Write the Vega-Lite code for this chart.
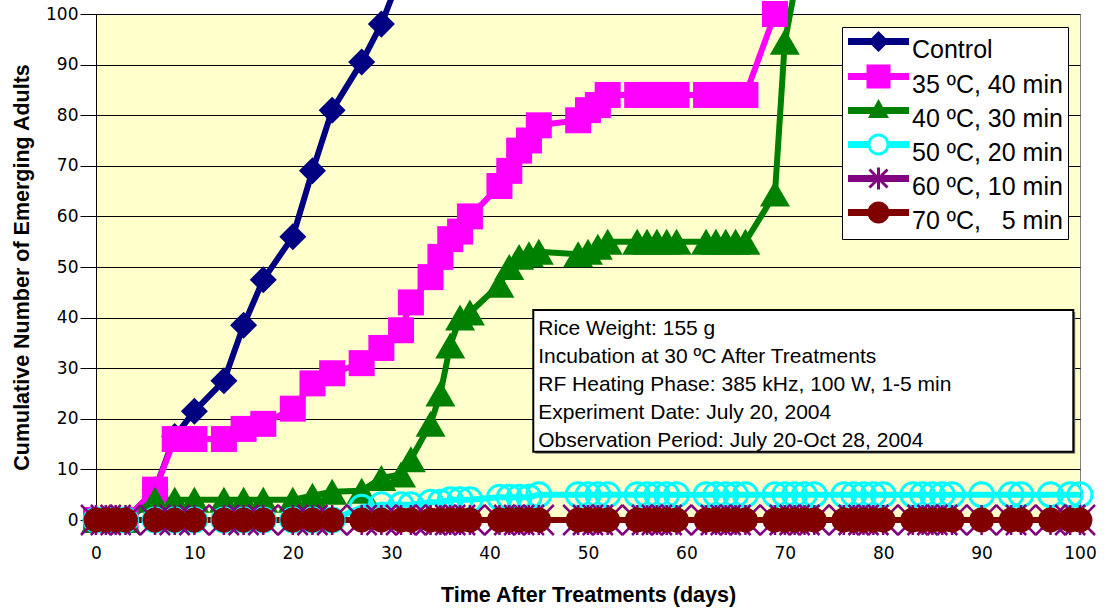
{
  "$schema": "https://vega.github.io/schema/vega-lite/v6.json",
  "autosize": "none",
  "width": 984,
  "height": 506,
  "padding": {"left": 96, "top": 14, "right": 24, "bottom": 89},
  "background": "white",
  "config": {
    "view": {"fill": "#FFFFCC", "stroke": "#808080", "strokeWidth": 1},
    "axis": {"labelColor": "#000000", "titleColor": "#000000", "domainColor": "#000000", "tickColor": "#000000", "labelFlush": false, "labelOverlap": false, "labelBound": false}
  },
  "datasets": {
    "emergence": [
    {"series":"Control","day":0,"n":0},{"series":"Control","day":1,"n":0},{"series":"Control","day":2,"n":0},{"series":"Control","day":3,"n":0},{"series":"Control","day":6,"n":6},{"series":"Control","day":8,"n":16.5},{"series":"Control","day":10,"n":21.5},{"series":"Control","day":13,"n":27.5},{"series":"Control","day":15,"n":38.5},{"series":"Control","day":17,"n":47.5},{"series":"Control","day":20,"n":56},{"series":"Control","day":22,"n":69},{"series":"Control","day":24,"n":81},{"series":"Control","day":27,"n":90.5},{"series":"Control","day":29,"n":98},{"series":"Control","day":31,"n":108},

    {"series":"35 ºC, 40 min","day":0,"n":0},{"series":"35 ºC, 40 min","day":1,"n":0},{"series":"35 ºC, 40 min","day":2,"n":0},{"series":"35 ºC, 40 min","day":3,"n":0},{"series":"35 ºC, 40 min","day":6,"n":6},{"series":"35 ºC, 40 min","day":8,"n":16},{"series":"35 ºC, 40 min","day":10,"n":16},{"series":"35 ºC, 40 min","day":13,"n":16},{"series":"35 ºC, 40 min","day":15,"n":18},{"series":"35 ºC, 40 min","day":17,"n":19},{"series":"35 ºC, 40 min","day":20,"n":22},{"series":"35 ºC, 40 min","day":22,"n":27},{"series":"35 ºC, 40 min","day":24,"n":29},{"series":"35 ºC, 40 min","day":27,"n":31},{"series":"35 ºC, 40 min","day":29,"n":34},{"series":"35 ºC, 40 min","day":31,"n":37.5},{"series":"35 ºC, 40 min","day":32,"n":43},{"series":"35 ºC, 40 min","day":34,"n":48},{"series":"35 ºC, 40 min","day":35,"n":52},{"series":"35 ºC, 40 min","day":36,"n":55.5},{"series":"35 ºC, 40 min","day":37,"n":57},{"series":"35 ºC, 40 min","day":38,"n":60},{"series":"35 ºC, 40 min","day":41,"n":66},{"series":"35 ºC, 40 min","day":42,"n":69},{"series":"35 ºC, 40 min","day":43,"n":73},{"series":"35 ºC, 40 min","day":44,"n":75},{"series":"35 ºC, 40 min","day":45,"n":78},{"series":"35 ºC, 40 min","day":49,"n":79},{"series":"35 ºC, 40 min","day":50,"n":81},{"series":"35 ºC, 40 min","day":51,"n":82},{"series":"35 ºC, 40 min","day":52,"n":84},{"series":"35 ºC, 40 min","day":55,"n":84},{"series":"35 ºC, 40 min","day":56,"n":84},{"series":"35 ºC, 40 min","day":57,"n":84},{"series":"35 ºC, 40 min","day":58,"n":84},{"series":"35 ºC, 40 min","day":59,"n":84},{"series":"35 ºC, 40 min","day":62,"n":84},{"series":"35 ºC, 40 min","day":63,"n":84},{"series":"35 ºC, 40 min","day":64,"n":84},{"series":"35 ºC, 40 min","day":65,"n":84},{"series":"35 ºC, 40 min","day":66,"n":84},{"series":"35 ºC, 40 min","day":69,"n":100},

    {"series":"40 ºC, 30 min","day":0,"n":0},{"series":"40 ºC, 30 min","day":1,"n":0},{"series":"40 ºC, 30 min","day":2,"n":0},{"series":"40 ºC, 30 min","day":3,"n":0},{"series":"40 ºC, 30 min","day":6,"n":4},{"series":"40 ºC, 30 min","day":8,"n":4},{"series":"40 ºC, 30 min","day":10,"n":4},{"series":"40 ºC, 30 min","day":13,"n":4},{"series":"40 ºC, 30 min","day":15,"n":4},{"series":"40 ºC, 30 min","day":17,"n":4},{"series":"40 ºC, 30 min","day":20,"n":4},{"series":"40 ºC, 30 min","day":22,"n":4.8},{"series":"40 ºC, 30 min","day":24,"n":5.6},{"series":"40 ºC, 30 min","day":27,"n":5.8},{"series":"40 ºC, 30 min","day":29,"n":8.3},{"series":"40 ºC, 30 min","day":31,"n":9},{"series":"40 ºC, 30 min","day":32,"n":12},{"series":"40 ºC, 30 min","day":34,"n":19},{"series":"40 ºC, 30 min","day":35,"n":25},{"series":"40 ºC, 30 min","day":36,"n":34.5},{"series":"40 ºC, 30 min","day":37,"n":40},{"series":"40 ºC, 30 min","day":38,"n":41},{"series":"40 ºC, 30 min","day":41,"n":46.5},{"series":"40 ºC, 30 min","day":42,"n":50},{"series":"40 ºC, 30 min","day":43,"n":52},{"series":"40 ºC, 30 min","day":44,"n":52.5},{"series":"40 ºC, 30 min","day":45,"n":53},{"series":"40 ºC, 30 min","day":49,"n":52.5},{"series":"40 ºC, 30 min","day":50,"n":53},{"series":"40 ºC, 30 min","day":51,"n":54},{"series":"40 ºC, 30 min","day":52,"n":55},{"series":"40 ºC, 30 min","day":55,"n":55},{"series":"40 ºC, 30 min","day":56,"n":55},{"series":"40 ºC, 30 min","day":57,"n":55},{"series":"40 ºC, 30 min","day":58,"n":55},{"series":"40 ºC, 30 min","day":59,"n":55},{"series":"40 ºC, 30 min","day":62,"n":55},{"series":"40 ºC, 30 min","day":63,"n":55},{"series":"40 ºC, 30 min","day":64,"n":55},{"series":"40 ºC, 30 min","day":65,"n":55},{"series":"40 ºC, 30 min","day":66,"n":55},{"series":"40 ºC, 30 min","day":69,"n":64.5},{"series":"40 ºC, 30 min","day":70,"n":94.5},{"series":"40 ºC, 30 min","day":72,"n":115},

    {"series":"50 ºC, 20 min","day":0,"n":0},{"series":"50 ºC, 20 min","day":1,"n":0},{"series":"50 ºC, 20 min","day":2,"n":0},{"series":"50 ºC, 20 min","day":3,"n":0},{"series":"50 ºC, 20 min","day":6,"n":0},{"series":"50 ºC, 20 min","day":8,"n":0},{"series":"50 ºC, 20 min","day":10,"n":0},{"series":"50 ºC, 20 min","day":13,"n":0},{"series":"50 ºC, 20 min","day":15,"n":0},{"series":"50 ºC, 20 min","day":17,"n":0},{"series":"50 ºC, 20 min","day":20,"n":0},{"series":"50 ºC, 20 min","day":22,"n":0},{"series":"50 ºC, 20 min","day":24,"n":0},{"series":"50 ºC, 20 min","day":27,"n":2.5},{"series":"50 ºC, 20 min","day":29,"n":3},{"series":"50 ºC, 20 min","day":31,"n":3},{"series":"50 ºC, 20 min","day":32,"n":3},{"series":"50 ºC, 20 min","day":34,"n":3.5},{"series":"50 ºC, 20 min","day":35,"n":3.5},{"series":"50 ºC, 20 min","day":36,"n":4},{"series":"50 ºC, 20 min","day":37,"n":4},{"series":"50 ºC, 20 min","day":38,"n":4},{"series":"50 ºC, 20 min","day":41,"n":4.5},{"series":"50 ºC, 20 min","day":42,"n":4.5},{"series":"50 ºC, 20 min","day":43,"n":4.5},{"series":"50 ºC, 20 min","day":44,"n":4.5},{"series":"50 ºC, 20 min","day":45,"n":5},{"series":"50 ºC, 20 min","day":49,"n":5},{"series":"50 ºC, 20 min","day":50,"n":5},{"series":"50 ºC, 20 min","day":51,"n":5},{"series":"50 ºC, 20 min","day":52,"n":5},{"series":"50 ºC, 20 min","day":55,"n":5},{"series":"50 ºC, 20 min","day":56,"n":5},{"series":"50 ºC, 20 min","day":57,"n":5},{"series":"50 ºC, 20 min","day":58,"n":5},{"series":"50 ºC, 20 min","day":59,"n":5},{"series":"50 ºC, 20 min","day":62,"n":5},{"series":"50 ºC, 20 min","day":63,"n":5},{"series":"50 ºC, 20 min","day":64,"n":5},{"series":"50 ºC, 20 min","day":65,"n":5},{"series":"50 ºC, 20 min","day":66,"n":5},{"series":"50 ºC, 20 min","day":69,"n":5},{"series":"50 ºC, 20 min","day":70,"n":5},{"series":"50 ºC, 20 min","day":71,"n":5},{"series":"50 ºC, 20 min","day":72,"n":5},{"series":"50 ºC, 20 min","day":73,"n":5},{"series":"50 ºC, 20 min","day":76,"n":5},{"series":"50 ºC, 20 min","day":77,"n":5},{"series":"50 ºC, 20 min","day":78,"n":5},{"series":"50 ºC, 20 min","day":79,"n":5},{"series":"50 ºC, 20 min","day":80,"n":5},{"series":"50 ºC, 20 min","day":83,"n":5},{"series":"50 ºC, 20 min","day":84,"n":5},{"series":"50 ºC, 20 min","day":85,"n":5},{"series":"50 ºC, 20 min","day":86,"n":5},{"series":"50 ºC, 20 min","day":87,"n":5},{"series":"50 ºC, 20 min","day":90,"n":5},{"series":"50 ºC, 20 min","day":93,"n":5},{"series":"50 ºC, 20 min","day":94,"n":5},{"series":"50 ºC, 20 min","day":97,"n":5},{"series":"50 ºC, 20 min","day":99,"n":5},{"series":"50 ºC, 20 min","day":100,"n":5},

    {"series":"60 ºC, 10 min","day":0,"n":0},{"series":"60 ºC, 10 min","day":1,"n":0},{"series":"60 ºC, 10 min","day":2,"n":0},{"series":"60 ºC, 10 min","day":3,"n":0},{"series":"60 ºC, 10 min","day":6,"n":0},{"series":"60 ºC, 10 min","day":8,"n":0},{"series":"60 ºC, 10 min","day":10,"n":0},{"series":"60 ºC, 10 min","day":13,"n":0},{"series":"60 ºC, 10 min","day":15,"n":0},{"series":"60 ºC, 10 min","day":17,"n":0},{"series":"60 ºC, 10 min","day":20,"n":0},{"series":"60 ºC, 10 min","day":22,"n":0},{"series":"60 ºC, 10 min","day":24,"n":0},{"series":"60 ºC, 10 min","day":27,"n":0},{"series":"60 ºC, 10 min","day":29,"n":0},{"series":"60 ºC, 10 min","day":31,"n":0},{"series":"60 ºC, 10 min","day":32,"n":0},{"series":"60 ºC, 10 min","day":34,"n":0},{"series":"60 ºC, 10 min","day":35,"n":0},{"series":"60 ºC, 10 min","day":36,"n":0},{"series":"60 ºC, 10 min","day":37,"n":0},{"series":"60 ºC, 10 min","day":38,"n":0},{"series":"60 ºC, 10 min","day":41,"n":0},{"series":"60 ºC, 10 min","day":42,"n":0},{"series":"60 ºC, 10 min","day":43,"n":0},{"series":"60 ºC, 10 min","day":44,"n":0},{"series":"60 ºC, 10 min","day":45,"n":0},{"series":"60 ºC, 10 min","day":49,"n":0},{"series":"60 ºC, 10 min","day":50,"n":0},{"series":"60 ºC, 10 min","day":51,"n":0},{"series":"60 ºC, 10 min","day":52,"n":0},{"series":"60 ºC, 10 min","day":55,"n":0},{"series":"60 ºC, 10 min","day":56,"n":0},{"series":"60 ºC, 10 min","day":57,"n":0},{"series":"60 ºC, 10 min","day":58,"n":0},{"series":"60 ºC, 10 min","day":59,"n":0},{"series":"60 ºC, 10 min","day":62,"n":0},{"series":"60 ºC, 10 min","day":63,"n":0},{"series":"60 ºC, 10 min","day":64,"n":0},{"series":"60 ºC, 10 min","day":65,"n":0},{"series":"60 ºC, 10 min","day":66,"n":0},{"series":"60 ºC, 10 min","day":69,"n":0},{"series":"60 ºC, 10 min","day":70,"n":0},{"series":"60 ºC, 10 min","day":71,"n":0},{"series":"60 ºC, 10 min","day":72,"n":0},{"series":"60 ºC, 10 min","day":73,"n":0},{"series":"60 ºC, 10 min","day":76,"n":0},{"series":"60 ºC, 10 min","day":77,"n":0},{"series":"60 ºC, 10 min","day":78,"n":0},{"series":"60 ºC, 10 min","day":79,"n":0},{"series":"60 ºC, 10 min","day":80,"n":0},{"series":"60 ºC, 10 min","day":83,"n":0},{"series":"60 ºC, 10 min","day":84,"n":0},{"series":"60 ºC, 10 min","day":85,"n":0},{"series":"60 ºC, 10 min","day":86,"n":0},{"series":"60 ºC, 10 min","day":87,"n":0},{"series":"60 ºC, 10 min","day":90,"n":0},{"series":"60 ºC, 10 min","day":93,"n":0},{"series":"60 ºC, 10 min","day":94,"n":0},{"series":"60 ºC, 10 min","day":97,"n":0},{"series":"60 ºC, 10 min","day":99,"n":0},{"series":"60 ºC, 10 min","day":100,"n":0},

    {"series":"70 ºC,\u00a0\u00a0\u00a05 min","day":0,"n":0},{"series":"70 ºC,\u00a0\u00a0\u00a05 min","day":1,"n":0},{"series":"70 ºC,\u00a0\u00a0\u00a05 min","day":2,"n":0},{"series":"70 ºC,\u00a0\u00a0\u00a05 min","day":3,"n":0},{"series":"70 ºC,\u00a0\u00a0\u00a05 min","day":6,"n":0},{"series":"70 ºC,\u00a0\u00a0\u00a05 min","day":8,"n":0},{"series":"70 ºC,\u00a0\u00a0\u00a05 min","day":10,"n":0},{"series":"70 ºC,\u00a0\u00a0\u00a05 min","day":13,"n":0},{"series":"70 ºC,\u00a0\u00a0\u00a05 min","day":15,"n":0},{"series":"70 ºC,\u00a0\u00a0\u00a05 min","day":17,"n":0},{"series":"70 ºC,\u00a0\u00a0\u00a05 min","day":20,"n":0},{"series":"70 ºC,\u00a0\u00a0\u00a05 min","day":22,"n":0},{"series":"70 ºC,\u00a0\u00a0\u00a05 min","day":24,"n":0},{"series":"70 ºC,\u00a0\u00a0\u00a05 min","day":27,"n":0},{"series":"70 ºC,\u00a0\u00a0\u00a05 min","day":29,"n":0},{"series":"70 ºC,\u00a0\u00a0\u00a05 min","day":31,"n":0},{"series":"70 ºC,\u00a0\u00a0\u00a05 min","day":32,"n":0},{"series":"70 ºC,\u00a0\u00a0\u00a05 min","day":34,"n":0},{"series":"70 ºC,\u00a0\u00a0\u00a05 min","day":35,"n":0},{"series":"70 ºC,\u00a0\u00a0\u00a05 min","day":36,"n":0},{"series":"70 ºC,\u00a0\u00a0\u00a05 min","day":37,"n":0},{"series":"70 ºC,\u00a0\u00a0\u00a05 min","day":38,"n":0},{"series":"70 ºC,\u00a0\u00a0\u00a05 min","day":41,"n":0},{"series":"70 ºC,\u00a0\u00a0\u00a05 min","day":42,"n":0},{"series":"70 ºC,\u00a0\u00a0\u00a05 min","day":43,"n":0},{"series":"70 ºC,\u00a0\u00a0\u00a05 min","day":44,"n":0},{"series":"70 ºC,\u00a0\u00a0\u00a05 min","day":45,"n":0},{"series":"70 ºC,\u00a0\u00a0\u00a05 min","day":49,"n":0},{"series":"70 ºC,\u00a0\u00a0\u00a05 min","day":50,"n":0},{"series":"70 ºC,\u00a0\u00a0\u00a05 min","day":51,"n":0},{"series":"70 ºC,\u00a0\u00a0\u00a05 min","day":52,"n":0},{"series":"70 ºC,\u00a0\u00a0\u00a05 min","day":55,"n":0},{"series":"70 ºC,\u00a0\u00a0\u00a05 min","day":56,"n":0},{"series":"70 ºC,\u00a0\u00a0\u00a05 min","day":57,"n":0},{"series":"70 ºC,\u00a0\u00a0\u00a05 min","day":58,"n":0},{"series":"70 ºC,\u00a0\u00a0\u00a05 min","day":59,"n":0},{"series":"70 ºC,\u00a0\u00a0\u00a05 min","day":62,"n":0},{"series":"70 ºC,\u00a0\u00a0\u00a05 min","day":63,"n":0},{"series":"70 ºC,\u00a0\u00a0\u00a05 min","day":64,"n":0},{"series":"70 ºC,\u00a0\u00a0\u00a05 min","day":65,"n":0},{"series":"70 ºC,\u00a0\u00a0\u00a05 min","day":66,"n":0},{"series":"70 ºC,\u00a0\u00a0\u00a05 min","day":69,"n":0},{"series":"70 ºC,\u00a0\u00a0\u00a05 min","day":70,"n":0},{"series":"70 ºC,\u00a0\u00a0\u00a05 min","day":71,"n":0},{"series":"70 ºC,\u00a0\u00a0\u00a05 min","day":72,"n":0},{"series":"70 ºC,\u00a0\u00a0\u00a05 min","day":73,"n":0},{"series":"70 ºC,\u00a0\u00a0\u00a05 min","day":76,"n":0},{"series":"70 ºC,\u00a0\u00a0\u00a05 min","day":77,"n":0},{"series":"70 ºC,\u00a0\u00a0\u00a05 min","day":78,"n":0},{"series":"70 ºC,\u00a0\u00a0\u00a05 min","day":79,"n":0},{"series":"70 ºC,\u00a0\u00a0\u00a05 min","day":80,"n":0},{"series":"70 ºC,\u00a0\u00a0\u00a05 min","day":83,"n":0},{"series":"70 ºC,\u00a0\u00a0\u00a05 min","day":84,"n":0},{"series":"70 ºC,\u00a0\u00a0\u00a05 min","day":85,"n":0},{"series":"70 ºC,\u00a0\u00a0\u00a05 min","day":86,"n":0},{"series":"70 ºC,\u00a0\u00a0\u00a05 min","day":87,"n":0},{"series":"70 ºC,\u00a0\u00a0\u00a05 min","day":90,"n":0},{"series":"70 ºC,\u00a0\u00a0\u00a05 min","day":93,"n":0},{"series":"70 ºC,\u00a0\u00a0\u00a05 min","day":94,"n":0},{"series":"70 ºC,\u00a0\u00a0\u00a05 min","day":97,"n":0},{"series":"70 ºC,\u00a0\u00a0\u00a05 min","day":99,"n":0},{"series":"70 ºC,\u00a0\u00a0\u00a05 min","day":100,"n":0}
    ],
    "note": [{"label": "info"}]
  },
  "layer": [
    {
      "data": {"name": "emergence"},
      "mark": {"type": "line", "strokeWidth": 6, "clip": false, "strokeJoin": "round"},
      "encoding": {
        "x": {"field": "day", "type": "quantitative",
          "scale": {"domain": [0, 100], "nice": false, "zero": false},
          "axis": {"values": [0,10,20,30,40,50,60,70,80,90,100], "grid": false, "ticks": false, "tickSize": 0, "domain": true, "labelPadding": 25,
            "labelFont": "DejaVu Sans", "labelFontSize": 17,
            "title": "Time After Treatments (days)", "titleFont": "Liberation Sans", "titleFontSize": 21.5, "titleFontWeight": "bold", "titleY": 75, "titleBaseline": "middle"}},
        "y": {"field": "n", "type": "quantitative",
          "scale": {"domain": [0, 100], "nice": false},
          "axis": {"values": [0,10,20,30,40,50,60,70,80,90,100], "grid": true, "gridColor": "#000000", "gridWidth": 1, "tickSize": 16, "labelPadding": 2,
            "labelFont": "DejaVu Sans", "labelFontSize": 17,
            "title": "Cumulative Number of Emerging Adults", "titleFont": "Liberation Sans", "titleFontSize": 21.5, "titleFontWeight": "bold", "titleX": -74, "titleBaseline": "middle"}},
        "color": {"field": "series", "type": "nominal",
          "scale": {"domain": ["Control","35 ºC, 40 min","40 ºC, 30 min","50 ºC, 20 min","60 ºC, 10 min","70 ºC,\u00a0\u00a0\u00a05 min"],
                    "range": ["#000080","#FF00FF","#008000","#00FFFF","#800080","#800000"]},
          "legend": {"title": null, "orient": "none", "legendX": 746, "legendY": 13,
            "fillColor": "white", "strokeColor": "black", "padding": 5,
            "labelFont": "Liberation Sans", "labelFontSize": 25, "labelColor": "black", "labelLimit": 400,
            "symbolSize": 100, "symbolOffset": 19, "labelOffset": 21, "rowPadding": 1,
            "encode": {
              "labels": {"update": {"dy": {"value": 5}}},
              "symbols": {"update": {
              "shape": {"signal": "['M-6.1,-1.3L6.1,-1.3L6.1,0.1L-6.1,0.1ZM0,-2.7L2.1,-0.6L0,1.5L-2.1,-0.6Z','M-6.1,-1.3L6.1,-1.3L6.1,0.1L-6.1,0.1ZM-2.4,-3L2.4,-3L2.4,1.8L-2.4,1.8Z','M-6.1,-1.3L6.1,-1.3L6.1,0.1L-6.1,0.1ZM0,-2.9L2.1,0.9L-2.1,0.9Z','M-6.1,-1.3L-1.9,-1.3L-1.9,0.1L-6.1,0.1ZM1.9,-1.3L6.1,-1.3L6.1,0.1L1.9,0.1ZM-2.2,-0.6A2.2,2.2,0,1,1,2.2,-0.6A2.2,2.2,0,1,1,-2.2,-0.6ZM-1.6,-0.6A1.6,1.6,0,1,0,1.6,-0.6A1.6,1.6,0,1,0,-1.6,-0.6Z','M-6.1,-1.3L6.1,-1.3L6.1,0.1L-6.1,0.1ZM-0.3,-2.8L0.3,-2.8L0.3,1.6L-0.3,1.6ZM-1.6,-2.6L2,1L1.6,1.4L-2,-2.2ZM-2,1L1.6,-2.6L2,-2.2L-1.6,1.4Z','M-6.1,-1.3L6.1,-1.3L6.1,0.1L-6.1,0.1ZM-2.2,-0.6A2.2,2.2,0,1,1,2.2,-0.6A2.2,2.2,0,1,1,-2.2,-0.6Z'][datum.index]"},
              "fill": {"signal": "scale('color', datum.value)"},
              "stroke": {"value": "transparent"},
              "strokeWidth": {"value": 0},
              "opacity": {"value": 1},
              "fillOpacity": {"value": 1},
              "size": {"value": 100}
            }}}
          }}
      }
    },
    {
      "data": {"name": "emergence"},
      "transform": [{"filter": {"field": "series", "equal": "Control"}}, {"filter": "datum.n <= 100"}],
      "mark": {"type": "point", "shape": "diamond", "size": 730, "filled": true, "color": "#000080", "opacity": 1, "strokeWidth": 0, "clip": false},
      "encoding": {"x": {"field": "day", "type": "quantitative"}, "y": {"field": "n", "type": "quantitative"}}
    },
    {
      "data": {"name": "emergence"},
      "transform": [{"filter": {"field": "series", "equal": "35 ºC, 40 min"}}],
      "mark": {"type": "point", "shape": "square", "size": 676, "filled": true, "color": "#FF00FF", "opacity": 1, "strokeWidth": 0, "clip": false},
      "encoding": {"x": {"field": "day", "type": "quantitative"}, "y": {"field": "n", "type": "quantitative"}}
    },
    {
      "data": {"name": "emergence"},
      "transform": [{"filter": {"field": "series", "equal": "40 ºC, 30 min"}}, {"filter": "datum.n <= 100"}],
      "mark": {"type": "point", "shape": "triangle-up", "size": 900, "filled": true, "color": "#008000", "opacity": 1, "strokeWidth": 0, "clip": false},
      "encoding": {"x": {"field": "day", "type": "quantitative"}, "y": {"field": "n", "type": "quantitative"}}
    },
    {
      "data": {"name": "emergence"},
      "transform": [{"filter": {"field": "series", "equal": "50 ºC, 20 min"}}],
      "mark": {"type": "point", "shape": "circle", "size": 575, "filled": false, "color": "#00FFFF", "opacity": 1, "strokeWidth": 3, "clip": false},
      "encoding": {"x": {"field": "day", "type": "quantitative"}, "y": {"field": "n", "type": "quantitative"}}
    },
    {
      "data": {"name": "emergence"},
      "transform": [{"filter": {"field": "series", "equal": "60 ºC, 10 min"}}],
      "mark": {"type": "point", "shape": "M-1,-1L1,1M-1,1L1,-1M0,-1L0,1", "size": 900, "filled": false, "color": "#800080", "opacity": 1, "strokeWidth": 2.5, "clip": false},
      "encoding": {"x": {"field": "day", "type": "quantitative"}, "y": {"field": "n", "type": "quantitative"}}
    },
    {
      "data": {"name": "emergence"},
      "transform": [{"filter": {"field": "series", "equal": "70 ºC,\u00a0\u00a0\u00a05 min"}}],
      "mark": {"type": "point", "shape": "circle", "size": 616, "filled": true, "color": "#800000", "opacity": 1, "strokeWidth": 0, "clip": false},
      "encoding": {"x": {"field": "day", "type": "quantitative"}, "y": {"field": "n", "type": "quantitative"}}
    },
    {
      "data": {"name": "note"},
      "mark": {"type": "rect", "fill": "#808080"},
      "encoding": {
        "x": {"datum": 44.64, "type": "quantitative"}, "x2": {"datum": 99.52},
        "y": {"datum": 41.1, "type": "quantitative"}, "y2": {"datum": 13.1}
      }
    },
    {
      "data": {"name": "note"},
      "mark": {"type": "rect", "fill": "white", "stroke": "black", "strokeWidth": 2},
      "encoding": {
        "x": {"datum": 44.44, "type": "quantitative"}, "x2": {"datum": 99.32},
        "y": {"datum": 41.5, "type": "quantitative"}, "y2": {"datum": 13.5}
      }
    },
    {
      "data": {"name": "note"},
      "mark": {"type": "text", "align": "left", "baseline": "top", "font": "Liberation Sans", "fontSize": 21, "lineHeight": 28, "color": "black",
        "text": ["Rice Weight: 155 g", "Incubation at 30 ºC After Treatments", "RF Heating Phase: 385 kHz, 100 W, 1-5 min", "Experiment Date: July 20, 2004", "Observation Period: July 20-Oct 28, 2004"]},
      "encoding": {
        "x": {"datum": 44.94, "type": "quantitative"},
        "y": {"datum": 39.84, "type": "quantitative"}
      }
    }
  ]
}
